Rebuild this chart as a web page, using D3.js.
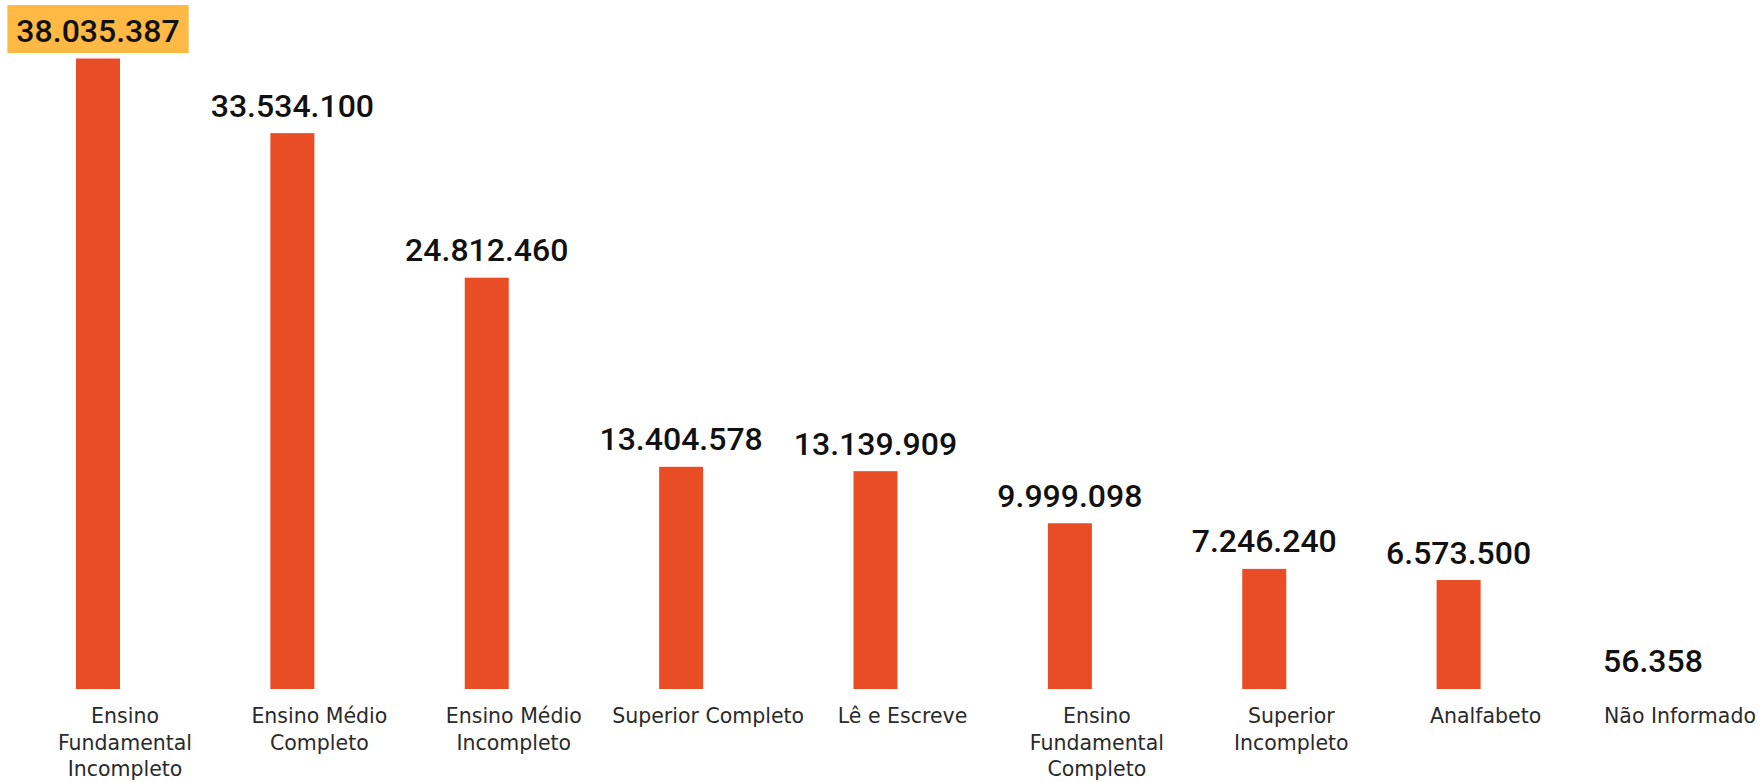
<!DOCTYPE html>
<html>
<head>
<meta charset="utf-8">
<script src="https://cdn.jsdelivr.net/npm/d3@7"></script>
<style>
  html, body { margin: 0; padding: 0; background: #ffffff; }
  svg { display: block; }
</style>
</head>
<body>
<svg id="chart" width="1762" height="782"></svg>
<script>
// ---- data ----
const categories = [
  "Ensino Fundamental Incompleto",
  "Ensino Médio Completo",
  "Ensino Médio Incompleto",
  "Superior Completo",
  "Lê e Escreve",
  "Ensino Fundamental Completo",
  "Superior Incompleto",
  "Analfabeto",
  "Não Informado"
];
const values = [38035387, 33534100, 24812460, 13404578, 13139909, 9999098, 7246240, 6573500, 56358];
const valueLabels = ["38.035.387", "33.534.100", "24.812.460", "13.404.578", "13.139.909", "9.999.098", "7.246.240", "6.573.500", "56.358"];
const tickLabelLines = [
  ["Ensino", "Fundamental", "Incompleto"],
  ["Ensino Médio", "Completo"],
  ["Ensino Médio", "Incompleto"],
  ["Superior Completo"],
  ["Lê e Escreve"],
  ["Ensino", "Fundamental", "Completo"],
  ["Superior", "Incompleto"],
  ["Analfabeto"],
  ["Não Informado"]
];
const highlightIndex = 0;

// ---- layout ----
const svg = d3.select("#chart");
const barColor = "#E84D25";
const highlightColor = "#FDB944";
const barWidth = 44;
const baseY = 689;

const x = d3.scalePoint().domain(categories).range([98, 1653]).padding(0);
const y = d3.scaleLinear().domain([0, d3.max(values)]).range([baseY, 58.5]);

const data = categories.map((c, i) => ({ c, v: values[i], label: valueLabels[i], lines: tickLabelLines[i], i }));

// bars (sub-pixel bars are not visible in the original)
svg.append("g").selectAll("rect").data(data.filter(d => baseY - y(d.v) >= 1)).join("rect")
  .attr("x", d => x(d.c) - barWidth / 2)
  .attr("y", d => y(d.v))
  .attr("width", barWidth)
  .attr("height", d => baseY - y(d.v))
  .attr("fill", barColor);

// value labels
const vl = svg.append("g");
data.forEach(d => {
  const g = vl.append("g");
  const by = y(d.v) - 16.5;
  const t = g.append("text")
    .attr("x", x(d.c))
    .attr("y", by)
    .attr("text-anchor", "middle")
    .attr("font-family", "Roboto, 'Noto Sans', sans-serif")
    .attr("font-weight", 500)
    .attr("font-size", 32)
    .attr("fill", "#111111")
    .text(d.label);
  if (d.i === highlightIndex) {
    const bb = t.node().getBBox();
    g.insert("rect", "text")
      .attr("x", bb.x - 9)
      .attr("y", by - 37)
      .attr("width", bb.width + 18)
      .attr("height", 48)
      .attr("fill", highlightColor);
  }
});

// category labels
const cl = svg.append("g");
data.forEach(d => {
  const t = cl.append("text")
    .attr("text-anchor", "middle")
    .attr("font-family", "'DejaVu Sans', sans-serif")
    .attr("font-size", 20.5)
    .attr("fill", "#2a2a2a");
  d.lines.forEach((ln, k) => {
    t.append("tspan")
      .attr("x", x(d.c) + 27)
      .attr("y", 723 + k * 26.5)
      .text(ln);
  });
});
</script>
</body>
</html>
